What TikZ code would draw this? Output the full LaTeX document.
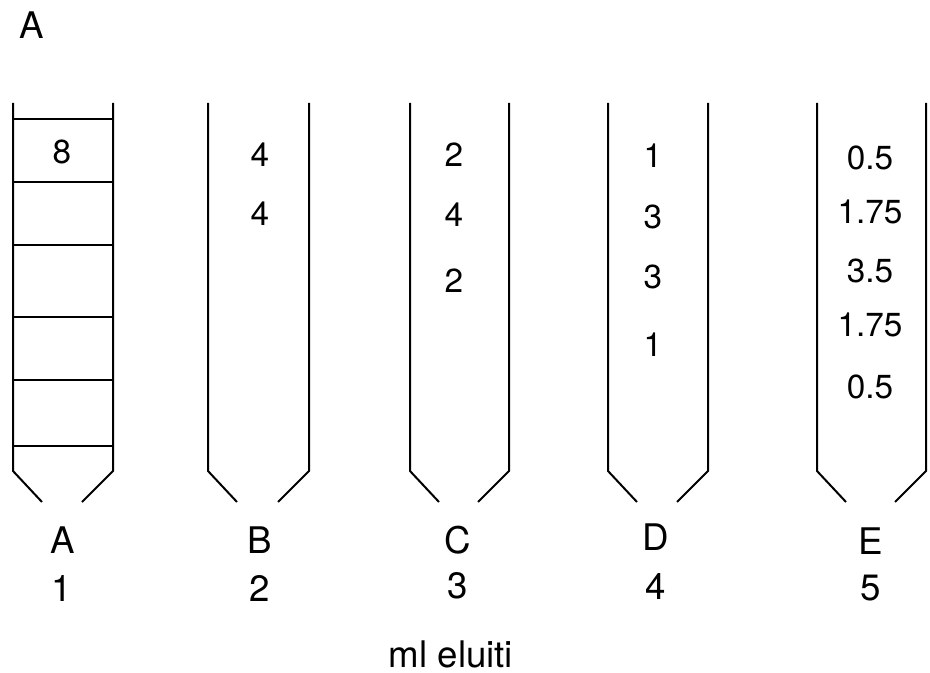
\documentclass[tikz,border=0pt]{standalone}
\usepackage{fontspec}
\setmainfont{TeX Gyre Heros}
\begin{document}
\begin{tikzpicture}[x=0.75pt,y=-0.75pt,
  tube/.style={line width=1.5pt,line join=miter},
  lbl/.style={font=\fontsize{25}{29}\selectfont,inner sep=0pt,anchor=center},
  big/.style={font=\fontsize{27.5}{31}\selectfont,inner sep=0pt,anchor=center},
  sep/.style={line width=1.3pt}]
\useasboundingbox (0,0) rectangle (930,673);
% panel letter
\node[big] (panel) at (32,25) {A};
% tubes
\foreach \l/\r in {13/113,208/309,410/509,608/708,817/926}{
  \draw[tube] (\l,103) -- (\l,471) -- (\l+29,502);
  \draw[tube] (\r,103) -- (\r,471) -- (\r-31,502);
}
% column A separators
\foreach \y in {119,182,245,317,380,446}{
  \draw[sep] (13,\y) -- (113,\y);
}
% contents
\node[lbl] (a1) at (62,152) {8};
\node[lbl] (b1) at (260,155) {4};
\node[lbl] (b2) at (260,214) {4};
\node[lbl] (c1) at (454,155) {2};
\node[lbl] (c2) at (454,215) {4};
\node[lbl] (c3) at (454,281) {2};
\node[lbl] (d1) at (653,156) {1};
\node[lbl] (d2) at (653,217) {3};
\node[lbl] (d3) at (653,277) {3};
\node[lbl] (d4) at (653,345) {1};
\node[lbl] (e1) at (870,158) {0.5};
\node[lbl] (e2) at (870,212) {1.75};
\node[lbl] (e3) at (870,271) {3.5};
\node[lbl] (e4) at (870,325) {1.75};
\node[lbl] (e5) at (870,387) {0.5};
% bottom labels
\node[big] (la) at (63,540) {A};
\node[big] (na) at (62,588) {1};
\node[big] (lb) at (260,540) {B};
\node[big] (nb) at (260,588) {2};
\node[big] (lc) at (458,540) {C};
\node[big] (nc) at (458,586) {3};
\node[big] (ld) at (656,537) {D};
\node[big] (nd) at (656,586) {4};
\node[big] (le) at (871,541) {E};
\node[big] (ne) at (871,588) {5};
\node[big,anchor=base] (axis) at (451,667) {ml eluiti};
\end{tikzpicture}
\end{document}
